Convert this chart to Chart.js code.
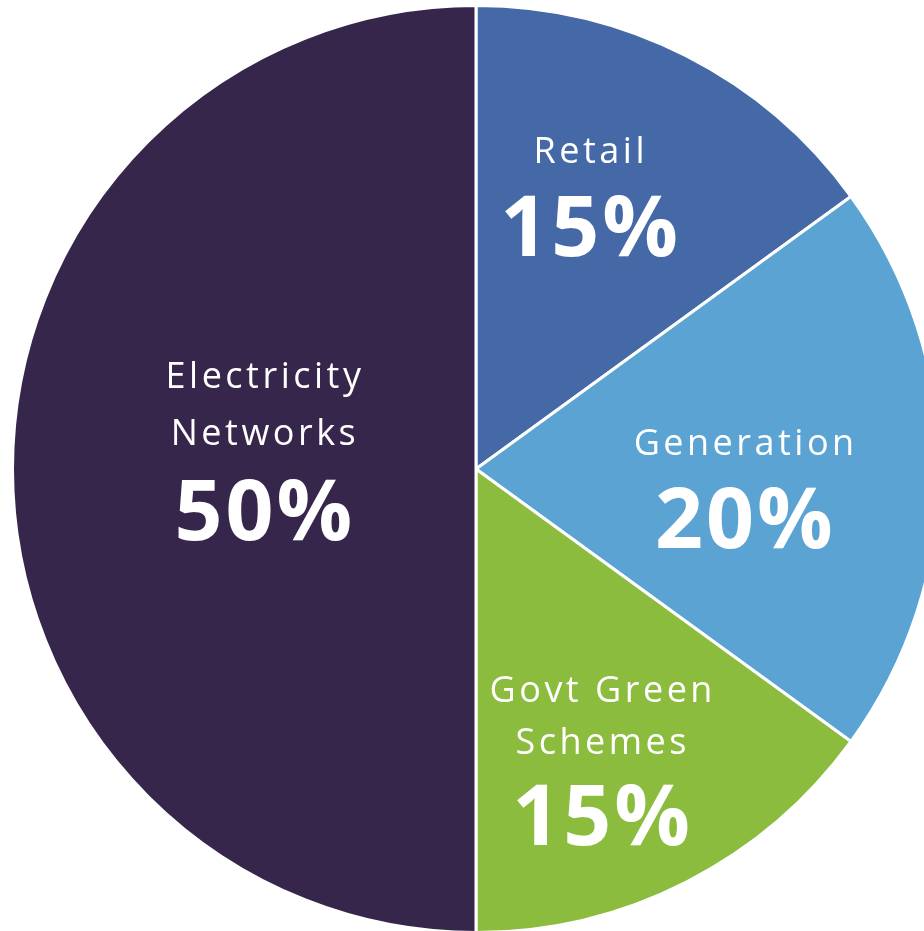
<!DOCTYPE html>
<html>
<head>
<meta charset="utf-8">
<script src="https://cdn.jsdelivr.net/npm/chart.js@4"></script>
<style>
  html, body { margin: 0; padding: 0; background: #fff; overflow: hidden; }
  #wrap { position: absolute; left: 11px; top: 4px; width: 930px; height: 930px; }
</style>
</head>
<body>
<div id="wrap"><canvas id="pie"></canvas></div>
<script>
// slices, clockwise from 12 o'clock
const categories = ['Retail', 'Generation', 'Govt Green Schemes', 'Electricity Networks'];
const shares = [15, 20, 15, 50];
const nameLines = [['Retail'], ['Generation'], ['Govt Green', 'Schemes'], ['Electricity', 'Networks']];
const sliceColors = ['#4469a6', '#5ba3d3', '#8cbc3e', '#37264b'];

// label layout: fraction of radius along the mid angle, and baseline offsets for each line
const labelLayout = [
  { frac: 0.537, baselines: [-84, 9] },
  { frac: 0.578, baselines: [-14, 79] },
  { frac: 0.594, baselines: [-12, 40, 131] },
  { frac: 0.459, baselines: [-81, -24, 71] }
];

function spacedText(ctx, text, x, y, spacing) {
  ctx.letterSpacing = spacing + 'px';
  ctx.fillText(text, x + spacing / 2, y);
}

const sliceLabels = {
  id: 'sliceLabels',
  afterDatasetsDraw(chart) {
    const ctx = chart.ctx;
    const meta = chart.getDatasetMeta(0);
    meta.data.forEach((arc, i) => {
      const p = arc.getProps(['x', 'y', 'startAngle', 'endAngle', 'outerRadius'], true);
      const mid = (p.startAngle + p.endAngle) / 2;
      const r = p.outerRadius * labelLayout[i].frac;
      const ax = p.x + Math.cos(mid) * r;
      const ay = p.y + Math.sin(mid) * r;
      const lines = nameLines[i];
      const base = labelLayout[i].baselines;
      ctx.save();
      ctx.fillStyle = '#ffffff';
      ctx.textAlign = 'center';
      ctx.textBaseline = 'alphabetic';
      ctx.font = '36px "Open Sans", sans-serif';
      lines.forEach((t, j) => spacedText(ctx, t, ax, ay + base[j], 3.5));
      ctx.font = 'bold 84px "Open Sans", sans-serif';
      spacedText(ctx, shares[i] + '%', ax, ay + base[lines.length], 3);
      ctx.restore();
    });
  }
};

new Chart(document.getElementById('pie'), {
  type: 'pie',
  data: {
    labels: categories,
    datasets: [{
      data: shares,
      backgroundColor: sliceColors,
      borderColor: '#ffffff',
      borderWidth: 3
    }]
  },
  options: {
    responsive: true,
    maintainAspectRatio: false,
    animation: false,
    layout: { padding: 0 },
    plugins: {
      legend: { display: false },
      tooltip: { enabled: false }
    }
  },
  plugins: [sliceLabels]
});
</script>
</body>
</html>
